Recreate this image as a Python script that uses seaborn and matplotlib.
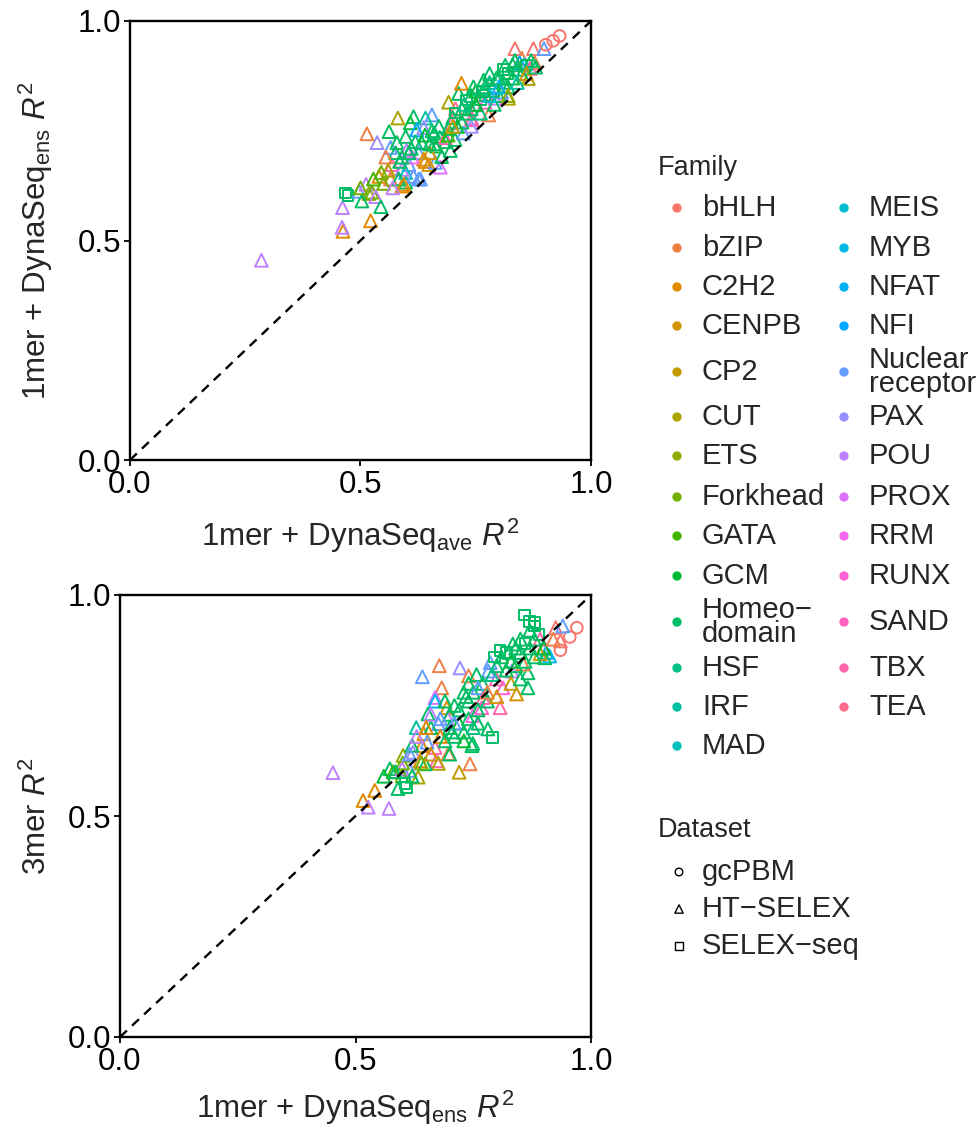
import numpy as np
import pandas as pd
import matplotlib
matplotlib.use("Agg")
import matplotlib.pyplot as plt
import seaborn as sns

# ---------------- categories ----------------
FAMILIES = ["bHLH", "bZIP", "C2H2", "CENPB", "CP2", "CUT", "ETS", "Forkhead",
            "GATA", "GCM", "Homeo\u2212\ndomain", "HSF", "IRF", "MAD", "MEIS",
            "MYB", "NFAT", "NFI", "Nuclear\nreceptor", "PAX", "POU", "PROX",
            "RRM", "RUNX", "SAND", "TBX", "TEA"]
DATASETS = ["gcPBM", "HT\u2212SELEX", "SELEX\u2212seq"]
TICKS = [0.0, 0.5, 1.0]
TICK_LABELS = ["0.0", "0.5", "1.0"]

# ---------------- top panel: 1mer+DynaSeq_ave (x) vs 1mer+DynaSeq_ens (y) ----------------
TOP_X = [0.285, 0.462, 0.460, 0.461, 0.522, 0.468, 0.473, 0.497, 0.512, 0.518,
         0.525, 0.503, 0.533, 0.544, 0.540, 0.565, 0.598, 0.590, 0.626, 0.568,
         0.590, 0.605, 0.673, 0.640, 0.662, 0.576, 0.536, 0.514, 0.562, 0.581,
         0.615, 0.608, 0.655, 0.641, 0.637, 0.622, 0.598, 0.619, 0.565, 0.579,
         0.660, 0.672, 0.685, 0.695, 0.665, 0.684, 0.698, 0.741, 0.676, 0.626,
         0.637, 0.648, 0.633, 0.598, 0.630, 0.615, 0.583, 0.594, 0.555, 0.600,
         0.612, 0.650, 0.560, 0.545, 0.705, 0.690, 0.835, 0.875, 0.898, 0.932,
         0.918, 0.902, 0.878, 0.850, 0.845, 0.855, 0.868, 0.864, 0.821, 0.691,
         0.706, 0.752, 0.770, 0.792, 0.806, 0.778, 0.741, 0.723, 0.740, 0.713,
         0.767, 0.814, 0.835, 0.719, 0.720, 0.730, 0.740, 0.750, 0.760, 0.770,
         0.780, 0.790, 0.800, 0.810, 0.820, 0.830, 0.840, 0.850, 0.860, 0.790,
         0.760, 0.740, 0.720, 0.700, 0.710, 0.800, 0.820, 0.840, 0.830, 0.810,
         0.780, 0.770, 0.750, 0.730, 0.870, 0.800, 0.780, 0.690, 0.660, 0.670,
         0.640, 0.650, 0.700, 0.820, 0.860, 0.590, 0.610, 0.550, 0.570, 0.880,
         0.500, 0.528, 0.585, 0.605, 0.655, 0.705, 0.725, 0.745, 0.765, 0.795]
TOP_Y = [0.455, 0.521, 0.530, 0.575, 0.545, 0.608, 0.602, 0.612, 0.628, 0.607,
         0.610, 0.590, 0.600, 0.577, 0.646, 0.640, 0.633, 0.624, 0.640, 0.673,
         0.662, 0.673, 0.667, 0.680, 0.678, 0.700, 0.723, 0.743, 0.748, 0.779,
         0.782, 0.768, 0.786, 0.779, 0.757, 0.752, 0.737, 0.725, 0.712, 0.723,
         0.745, 0.735, 0.725, 0.705, 0.715, 0.734, 0.768, 0.775, 0.691, 0.700,
         0.685, 0.673, 0.723, 0.655, 0.640, 0.646, 0.640, 0.628, 0.690, 0.705,
         0.690, 0.700, 0.660, 0.655, 0.730, 0.755, 0.937, 0.937, 0.937, 0.966,
         0.955, 0.946, 0.905, 0.915, 0.905, 0.900, 0.892, 0.869, 0.824, 0.815,
         0.800, 0.809, 0.815, 0.824, 0.838, 0.786, 0.779, 0.745, 0.760, 0.835,
         0.865, 0.899, 0.910, 0.858, 0.800, 0.820, 0.830, 0.840, 0.820, 0.850,
         0.860, 0.840, 0.870, 0.860, 0.880, 0.870, 0.890, 0.880, 0.900, 0.810,
         0.790, 0.800, 0.770, 0.780, 0.760, 0.830, 0.850, 0.860, 0.900, 0.890,
         0.880, 0.830, 0.810, 0.790, 0.910, 0.850, 0.830, 0.740, 0.720, 0.760,
         0.740, 0.720, 0.760, 0.830, 0.880, 0.690, 0.710, 0.630, 0.620, 0.895,
         0.620, 0.640, 0.680, 0.700, 0.750, 0.790, 0.810, 0.850, 0.840, 0.870]
TOP_FAM = [20, 2, 20, 20, 2, 10, 10, 18, 20, 6,
           7, 10, 20, 10, 2, 1, 10, 2, 18, 25,
           20, 18, 21, 2, 18, 10, 19, 1, 10, 5,
           10, 9, 18, 12, 19, 17, 10, 11, 18, 10,
           10, 11, 10, 10, 9, 25, 24, 24, 10, 18,
           2, 3, 10, 13, 18, 18, 10, 2, 1, 20,
           22, 3, 5, 7, 10, 10, 0, 0, 18, 0,
           0, 0, 1, 1, 17, 15, 25, 5, 5, 5,
           26, 25, 24, 20, 18, 1, 25, 18, 19, 10,
           10, 10, 10, 2, 10, 10, 10, 9, 10, 10,
           11, 10, 10, 10, 10, 9, 10, 10, 10, 10,
           11, 10, 10, 10, 9, 10, 10, 12, 10, 10,
           10, 10, 9, 10, 10, 16, 14, 8, 10, 10,
           9, 10, 4, 6, 3, 10, 10, 7, 20, 10,
           7, 8, 10, 10, 10, 10, 11, 10, 10, 10]
TOP_SET = [1, 1, 1, 1, 1, 2, 2, 1, 1, 1,
           1, 1, 1, 1, 1, 1, 1, 1, 1, 1,
           1, 1, 1, 1, 1, 1, 1, 1, 1, 1,
           1, 1, 1, 1, 1, 1, 1, 1, 1, 1,
           1, 1, 1, 1, 1, 1, 1, 1, 1, 1,
           1, 1, 1, 1, 1, 1, 1, 1, 1, 1,
           1, 1, 1, 1, 1, 1, 1, 1, 1, 0,
           0, 0, 1, 1, 1, 1, 1, 1, 1, 1,
           1, 1, 1, 1, 1, 1, 1, 1, 1, 1,
           1, 1, 1, 1, 1, 2, 1, 1, 2, 1,
           1, 2, 1, 1, 2, 1, 1, 1, 2, 1,
           1, 1, 1, 1, 1, 1, 1, 1, 1, 2,
           1, 2, 1, 1, 1, 1, 1, 1, 1, 1,
           1, 1, 1, 1, 1, 1, 1, 1, 1, 1,
           1, 1, 1, 1, 1, 2, 1, 1, 2, 1]

# ---------------- bottom panel: 1mer+DynaSeq_ens (x) vs 3mer (y) ----------------
BOT_X = [0.452, 0.859, 0.880, 0.880, 0.970, 0.955, 0.935, 0.925, 0.935, 0.940,
         0.678, 0.642, 0.722, 0.740, 0.683, 0.669, 0.669, 0.694, 0.654, 0.629,
         0.696, 0.791, 0.749, 0.781, 0.757, 0.866, 0.866, 0.807, 0.813, 0.799,
         0.832, 0.842, 0.771, 0.768, 0.749, 0.786, 0.782, 0.905, 0.912, 0.898,
         0.902, 0.834, 0.807, 0.892, 0.856, 0.892, 0.676, 0.645, 0.669, 0.652,
         0.641, 0.697, 0.743, 0.720, 0.747, 0.672, 0.676, 0.601, 0.622, 0.637,
         0.648, 0.573, 0.599, 0.616, 0.599, 0.633, 0.590, 0.605, 0.608, 0.541,
         0.516, 0.527, 0.571, 0.700, 0.710, 0.720, 0.730, 0.740, 0.750, 0.760,
         0.720, 0.710, 0.740, 0.760, 0.730, 0.700, 0.690, 0.750, 0.770, 0.730,
         0.780, 0.800, 0.810, 0.820, 0.830, 0.840, 0.850, 0.860, 0.870, 0.880,
         0.890, 0.870, 0.850, 0.820, 0.790, 0.840, 0.880, 0.900, 0.860, 0.880,
         0.870, 0.620, 0.630, 0.660, 0.680, 0.600, 0.580, 0.620, 0.660, 0.690,
         0.700, 0.640, 0.710, 0.740, 0.760, 0.780, 0.800, 0.830, 0.850, 0.660,
         0.680, 0.650, 0.920, 0.560, 0.585, 0.615, 0.705, 0.735, 0.795, 0.825]
BOT_Y = [0.598, 0.955, 0.938, 0.930, 0.926, 0.905, 0.875, 0.926, 0.896, 0.930,
         0.840, 0.815, 0.835, 0.817, 0.790, 0.768, 0.760, 0.745, 0.731, 0.700,
         0.720, 0.678, 0.664, 0.697, 0.820, 0.790, 0.824, 0.745, 0.790, 0.810,
         0.828, 0.776, 0.768, 0.745, 0.727, 0.847, 0.828, 0.870, 0.862, 0.880,
         0.858, 0.889, 0.874, 0.900, 0.844, 0.867, 0.709, 0.686, 0.655, 0.667,
         0.659, 0.641, 0.618, 0.599, 0.659, 0.625, 0.619, 0.637, 0.644, 0.625,
         0.618, 0.607, 0.607, 0.603, 0.591, 0.588, 0.562, 0.573, 0.565, 0.558,
         0.535, 0.520, 0.517, 0.700, 0.680, 0.710, 0.690, 0.720, 0.700, 0.740,
         0.740, 0.750, 0.760, 0.710, 0.670, 0.730, 0.760, 0.780, 0.800, 0.780,
         0.760, 0.840, 0.860, 0.870, 0.850, 0.880, 0.870, 0.890, 0.880, 0.900,
         0.910, 0.920, 0.900, 0.830, 0.820, 0.840, 0.860, 0.880, 0.850, 0.930,
         0.940, 0.660, 0.680, 0.700, 0.680, 0.620, 0.600, 0.590, 0.640, 0.670,
         0.640, 0.620, 0.710, 0.800, 0.790, 0.780, 0.770, 0.800, 0.810, 0.730,
         0.720, 0.700, 0.900, 0.590, 0.600, 0.640, 0.690, 0.770, 0.860, 0.870]
BOT_FAM = [20, 10, 10, 10, 0, 0, 0, 0, 0, 18,
           1, 18, 19, 1, 1, 21, 16, 2, 10, 12,
           20, 10, 10, 10, 10, 10, 10, 25, 23, 25,
           20, 3, 25, 24, 22, 18, 18, 16, 16, 18,
           10, 10, 10, 25, 1, 4, 18, 2, 25, 18,
           2, 1, 1, 4, 10, 25, 5, 6, 19, 2,
           10, 10, 20, 18, 7, 5, 10, 10, 10, 2,
           2, 20, 20, 10, 10, 9, 10, 10, 11, 10,
           10, 10, 10, 10, 9, 10, 10, 10, 10, 10,
           10, 10, 10, 10, 9, 10, 10, 10, 10, 10,
           10, 10, 10, 10, 11, 10, 10, 9, 10, 10,
           10, 10, 20, 10, 2, 7, 8, 10, 3, 10,
           10, 7, 18, 10, 18, 1, 3, 4, 10, 20,
           18, 2, 1, 9, 10, 18, 10, 10, 10, 10]
BOT_SET = [1, 2, 2, 2, 0, 0, 0, 1, 1, 1,
           1, 1, 1, 1, 1, 1, 1, 1, 1, 1,
           1, 2, 1, 1, 1, 1, 1, 1, 1, 1,
           1, 1, 1, 1, 1, 1, 1, 1, 1, 1,
           1, 1, 2, 1, 1, 1, 1, 1, 1, 1,
           1, 1, 1, 1, 1, 1, 1, 1, 1, 1,
           1, 1, 1, 1, 1, 1, 1, 2, 2, 1,
           1, 1, 1, 1, 1, 1, 1, 1, 1, 1,
           1, 1, 1, 1, 1, 1, 1, 1, 1, 1,
           1, 1, 1, 2, 1, 1, 1, 2, 1, 1,
           2, 1, 1, 1, 1, 1, 1, 1, 1, 2,
           2, 1, 1, 1, 1, 1, 1, 1, 1, 1,
           1, 1, 1, 1, 1, 1, 1, 1, 1, 1,
           1, 1, 1, 1, 1, 1, 1, 1, 2, 1]


# ---------------- ggplot-like hue palette (HCL, c=100, l=65) ----------------
def hcl_to_hex(h, c=100.0, l=65.0):
    hr = np.deg2rad(h)
    u, v = c * np.cos(hr), c * np.sin(hr)
    Xn, Yn, Zn = 95.047, 100.0, 108.883
    den = Xn + 15 * Yn + 3 * Zn
    un, vn = 4 * Xn / den, 9 * Yn / den
    Y = Yn * ((l + 16) / 116) ** 3 if l > 8 else Yn * l / 903.3
    up = u / (13 * l) + un
    vp = v / (13 * l) + vn
    X = Y * 9 * up / (4 * vp)
    Z = Y * (12 - 3 * up - 20 * vp) / (4 * vp)
    xyz = np.array([X, Y, Z]) / 100.0
    M = np.array([[3.2404542, -1.5371385, -0.4985314],
                  [-0.9692660, 1.8760108, 0.0415560],
                  [0.0556434, -0.2040259, 1.0572252]])
    rgb = M @ xyz
    rgb = np.where(rgb <= 0.0031308, 12.92 * rgb,
                   1.055 * np.power(np.clip(rgb, 0, None), 1 / 2.4) - 0.055)
    rgb = np.clip(rgb, 0, 1)
    return matplotlib.colors.to_hex(rgb)


hues = np.linspace(15, 375, len(FAMILIES) + 1)[:-1]
PALETTE = {f: hcl_to_hex(h) for f, h in zip(FAMILIES, hues)}

sns.set_style("white")
plt.rcParams["font.family"] = ["Liberation Sans", "DejaVu Sans"]
plt.rcParams["mathtext.fontset"] = "custom"
plt.rcParams["mathtext.rm"] = "Liberation Sans"
plt.rcParams["mathtext.it"] = "Liberation Sans:italic"
plt.rcParams["mathtext.sf"] = "Liberation Sans"

W, H = 979, 1131
fig = plt.figure(figsize=(W / 100, H / 100), dpi=100)

MARKERS = {DATASETS[0]: "o", DATASETS[1]: "^", DATASETS[2]: "s"}
SIZES = {DATASETS[0]: 70, DATASETS[1]: 85, DATASETS[2]: 58}


def make_df(xs, ys, fams, sets):
    return pd.DataFrame({"x": xs, "y": ys,
                         "family": [FAMILIES[i] for i in fams],
                         "dataset": [DATASETS[i] for i in sets]})


def panel(ax, df, xlabel, ylabel, xlab_off, ylab_off):
    sns.scatterplot(data=df, x="x", y="y", hue="family", hue_order=FAMILIES,
                    palette=PALETTE, style="dataset", style_order=DATASETS,
                    markers=MARKERS, size="dataset", sizes=SIZES,
                    size_order=DATASETS, legend=False, ax=ax, linewidth=1.4,
                    zorder=2)
    coll = ax.collections[-1]
    fc = coll.get_facecolors()
    coll.set_edgecolors(fc)
    coll.set_facecolors("none")
    ax.plot([0, 1], [0, 1], color="black", lw=1.7, ls=(0, (4, 3)), zorder=3)
    ax.set_xlim(0, 1)
    ax.set_ylim(0, 1)
    ax.set_xticks(TICKS)
    ax.set_yticks(TICKS)
    ax.set_xticklabels(TICK_LABELS)
    ax.set_yticklabels(TICK_LABELS)
    ax.tick_params(axis="both", direction="out", length=4.5, width=1.3,
                   color="black", labelsize=22.5, labelcolor="black",
                   bottom=True, left=True)
    ax.tick_params(axis="x", pad=3)
    ax.tick_params(axis="y", pad=2)
    for sp in ax.spines.values():
        sp.set_visible(True)
        sp.set_color("black")
        sp.set_linewidth(1.7)
    ax.set_xlabel(xlabel, fontsize=22.5, va="baseline")
    ax.set_ylabel(ylabel, fontsize=22.5, va="baseline")
    bb = ax.get_position()
    ax.xaxis.set_label_coords(0.5, -xlab_off / (bb.height * H))
    ax.yaxis.set_label_coords(-ylab_off / (bb.width * W), 0.5)


ax1 = fig.add_axes([130 / W, 1 - 460 / H, 461 / W, 439 / H])
panel(ax1, make_df(TOP_X, TOP_Y, TOP_FAM, TOP_SET),
      r"1mer + DynaSeq$_{\mathrm{ave}}$ $\mathit{R}^{2}$",
      r"1mer + DynaSeq$_{\mathrm{ens}}$ $\mathit{R}^{2}$", 86, 84)

ax2 = fig.add_axes([120 / W, 1 - 1037 / H, 471 / W, 442 / H])
panel(ax2, make_df(BOT_X, BOT_Y, BOT_FAM, BOT_SET),
      r"1mer + DynaSeq$_{\mathrm{ens}}$ $\mathit{R}^{2}$",
      r"3mer $\mathit{R}^{2}$", 81, 74)

# ---------------- legends (drawn in pixel coordinates) ----------------
lax = fig.add_axes([0, 0, 1, 1], zorder=-1)
lax.set_xlim(0, W)
lax.set_ylim(H, 0)
lax.axis("off")

lax.text(658, 168, "Family", fontsize=19.5, va="center", ha="left")
ROWS = [208, 248, 287, 326, 372, 417, 456, 497, 536, 576, 622, 668, 707, 746]
COLS = [(677, 702), (844, 869)]
for i, fam in enumerate(FAMILIES):
    col, row = divmod(i, 14)
    mx, tx = COLS[col]
    y = ROWS[row]
    lax.scatter([mx], [y], s=45, color=PALETTE[fam], edgecolors="none")
    lax.text(tx, y, fam, fontsize=21, va="center", ha="left", linespacing=0.8)

lax.text(658, 830, "Dataset", fontsize=19.5, va="center", ha="left")
for j, ds in enumerate(DATASETS):
    y = [872, 909, 946][j]
    lax.scatter([679], [y], s=[30, 36, 26][j], marker=MARKERS[ds],
                facecolors="none", edgecolors="black", linewidths=1.0)
    lax.text(702, y, ds, fontsize=21, va="center", ha="left")

fig.savefig("out.png", dpi=100)
